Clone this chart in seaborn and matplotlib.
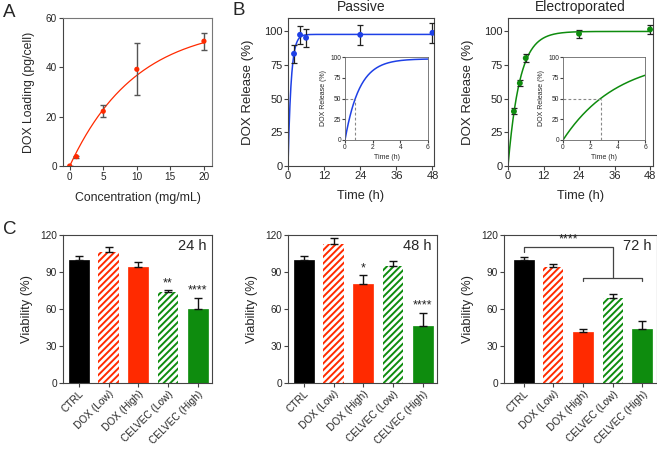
import numpy as np
import pandas as pd
import matplotlib
matplotlib.use("Agg")
import matplotlib.pyplot as plt
import seaborn as sns

# ---------------- data ----------------
# Panel A
conc = [0, 1, 5, 10, 20]
loading = [0, 3.8, 22.2, 39.2, 50.6]
loading_err = [0, 0.4, 2.4, 10.5, 3.5]
loadfit_plateau, loadfit_k = 57.5, 0.102

# Panel B
rel_time = [2, 4, 6, 24, 48]
passive = [83.4, 97.5, 95.3, 97.5, 99.0]
passive_err = [6.8, 6.8, 6.8, 7.3, 7.4]
passive_plateau, passive_half = 97.8, 0.72
electro = [40.6, 61.6, 80.2, 98.3, 101.5]
electro_err = [2.2, 2.5, 2.8, 3.0, 3.2]
electro_plateau, electro_half = 100.0, 2.75

# Panel C
groups = ["CTRL", "DOX (Low)", "DOX (High)", "CELVEC (Low)", "CELVEC (High)"]
via_24 = [99.8, 106.0, 94.4, 73.6, 59.9]
err_24 = [3.0, 4.5, 4.0, 1.6, 9.1]
stars_24 = ["", "", "", "**", "****"]
via_48 = [99.6, 112.9, 80.5, 95.0, 46.3]
err_48 = [3.3, 4.7, 6.8, 3.8, 10.6]
stars_48 = ["", "", "*", "", "****"]
via_72 = [99.8, 93.9, 41.0, 68.8, 44.0]
err_72 = [2.7, 2.4, 2.7, 3.2, 5.9]
bracket_72_top, bracket_72_low = 110.6, 85.0

RED = "#FF2A00"
BLUE = "#1E40E6"
GREEN = "#0E8C0E"
bar_colors = ["#000000", RED, RED, GREEN, GREEN]
bar_hatched = [False, True, False, True, False]

# ---------------- style ----------------
sns.set_style("ticks")
plt.rcParams["font.family"] = ["Liberation Sans", "DejaVu Sans"]
plt.rcParams["hatch.linewidth"] = 1.4
SPINE = "#444444"

W, H = 657, 449
fig = plt.figure(figsize=(W / 100, H / 100), dpi=100)


def px(l, t, r, b):
    return [l / W, 1 - b / H, (r - l) / W, (b - t) / H]


def style_ax(ax, labelsize=7, ticklen=3, pad=1.2):
    for s in ax.spines.values():
        s.set_visible(True)
        s.set_color(SPINE)
        s.set_linewidth(0.8)
    ax.tick_params(axis="both", which="both", direction="out", length=ticklen,
                   width=0.8, color=SPINE, labelsize=labelsize, pad=pad,
                   top=False, right=False)


def one_phase(t, plateau, half):
    return plateau * (1 - np.exp(-np.log(2) / half * t))


# ---------------- Panel A ----------------
axA = fig.add_axes(px(63, 18, 212, 166))
xs = np.linspace(0, 20, 200)
sns.lineplot(x=xs, y=loadfit_plateau * (1 - np.exp(-loadfit_k * xs)), ax=axA,
             color=RED, lw=0.9)
axA.errorbar(conc, loading, yerr=loading_err, fmt="none", ecolor="#555555",
             elinewidth=1, capsize=2.5, capthick=1)
sns.scatterplot(x=conc, y=loading, ax=axA, color=RED, s=14, edgecolor="none",
                marker="o", zorder=5)
axA.set_xlim(-1, 21.2)
axA.set_ylim(0, 60)
axA.set_xticks([0, 5, 10, 15, 20])
axA.set_yticks([0, 20, 40, 60])
axA.set_xlabel("Concentration (mg/mL)", fontsize=8.8, labelpad=7)
axA.set_ylabel("DOX Loading (pg/cell)", fontsize=8.8, labelpad=8)
style_ax(axA, labelsize=7.2)
for sp in ["top", "right"]:
    axA.spines[sp].set_color("#777777")


# ---------------- Panel B ----------------
def release_panel(main_rect, inset_rect, vals, errs, plateau, half, color,
                  title, xmax):
    ax = fig.add_axes(px(*main_rect))
    tt = np.linspace(0, 48, 600)
    sns.lineplot(x=tt, y=one_phase(tt, plateau, half), ax=ax, color=color,
                 lw=1.1)
    ax.errorbar(rel_time, vals, yerr=errs, fmt="none", ecolor="#222222",
                elinewidth=0.9, capsize=2.5, capthick=0.9, zorder=4)
    sns.scatterplot(x=rel_time, y=vals, ax=ax, color=color, s=18,
                    edgecolor="none", zorder=5)
    ax.set_xlim(0, xmax)
    ax.set_ylim(0, 110)
    ax.set_xticks([0, 12, 24, 36, 48])
    ax.set_yticks([0, 25, 50, 75, 100])
    ax.set_xlabel("Time (h)", fontsize=9.2, labelpad=6)
    ax.set_ylabel("DOX Release (%)", fontsize=9.5, labelpad=7)
    ax.set_title(title, fontsize=10, pad=5)
    style_ax(ax, labelsize=8, pad=0.8)

    ins = fig.add_axes(px(*inset_rect))
    ti = np.linspace(0, 6, 200)
    sns.lineplot(x=ti, y=one_phase(ti, plateau, half), ax=ins, color=color,
                 lw=1.1)
    ins.plot([0, half], [50, 50], ls=(0, (2.5, 2)), color="#888888", lw=0.8)
    ins.plot([half, half], [0, 50], ls=(0, (2.5, 2)), color="#888888", lw=0.8)
    ins.set_xlim(0, 6)
    ins.set_ylim(0, 100)
    ins.set_xticks([0, 2, 4, 6])
    ins.set_yticks([0, 25, 50, 75, 100])
    ins.set_xlabel("Time (h)", fontsize=5, labelpad=2)
    ins.set_ylabel("DOX Release (%)", fontsize=5, labelpad=2)
    style_ax(ins, labelsize=4.8, ticklen=2, pad=0.8)
    for s in ins.spines.values():
        s.set_linewidth(0.6)
        s.set_color("#666666")
    return ax


release_panel((288, 18, 434, 166), (345, 57, 428, 140), passive, passive_err,
              passive_plateau, passive_half, BLUE, "Passive", 48.5)
release_panel((508, 18, 653, 166), (563, 57, 645, 140), electro, electro_err,
              electro_plateau, electro_half, GREEN, "Electroporated", 49)


# ---------------- Panel C ----------------
def bar_panel(rect, vals, errs, label, stars=None, xlim=(-0.53, 4.48)):
    ax = fig.add_axes(px(*rect))
    df = pd.DataFrame({"group": groups, "val": vals})
    sns.barplot(data=df, x="group", y="val", hue="group", palette=bar_colors,
                legend=False, errorbar=None, width=0.68, ax=ax, saturation=1)
    for p, col, hat in zip(ax.patches, bar_colors, bar_hatched):
        if hat:
            p.set_facecolor("white")
            p.set_edgecolor(col)
            p.set_hatch("/////")
            p.set_linewidth(0)
        else:
            p.set_edgecolor(col)
            p.set_linewidth(0.5)
    xpos = np.arange(len(vals))
    ax.errorbar(xpos, vals, yerr=[np.zeros(len(errs)), errs], fmt="none",
                ecolor="#111111", elinewidth=1, capsize=3, capthick=1, zorder=4)
    if stars:
        for x, v, e, s in zip(xpos, vals, errs, stars):
            if s:
                ax.text(x, v + e + 1.0, s, ha="center", va="bottom",
                        fontsize=9, color="#222222")
    ax.set_ylim(0, 120)
    ax.set_yticks([0, 30, 60, 90, 120])
    ax.set_xlim(*xlim)
    ax.set_xlabel("")
    ax.set_ylabel("Viability (%)", fontsize=9.3, labelpad=5)
    ax.set_xticks(xpos)
    ax.set_xticklabels(groups, rotation=45, ha="right", rotation_mode="anchor",
                       fontsize=8)
    ax.text(0.965, 0.975, label, transform=ax.transAxes, ha="right", va="top",
            fontsize=10.5)
    style_ax(ax, labelsize=7.3)
    return ax


bar_panel((63, 235, 212, 383), via_24, err_24, "24 h", stars_24)
bar_panel((288, 235, 437, 383), via_48, err_48, "48 h", stars_48)
ax72 = bar_panel((504, 235, 657, 383), via_72, err_72, "72 h",
                 xlim=(-0.67, 4.5))
# significance bracket (72 h)
bc = "#444444"
ax72.plot([0, 0, 3, 3], [via_72[0] + err_72[0] + 4, bracket_72_top,
                         bracket_72_top, bracket_72_low], color=bc, lw=0.9)
ax72.plot([2, 2, 4, 4], [bracket_72_low - 2.2, bracket_72_low, bracket_72_low,
                         bracket_72_low - 2.2], color=bc, lw=0.9)
ax72.text(1.5, bracket_72_top + 0.6, "****", ha="center", va="bottom",
          fontsize=9, color="#222222")

# ---------------- panel letters ----------------
fig.text(3 / W, 1 - 4 / H, "A", fontsize=13.5, va="top", ha="left")
fig.text(233 / W, 1 - 2 / H, "B", fontsize=13.5, va="top", ha="left")
fig.text(3 / W, 1 - 221 / H, "C", fontsize=13.5, va="top", ha="left")

fig.savefig("out.png", dpi=100)
